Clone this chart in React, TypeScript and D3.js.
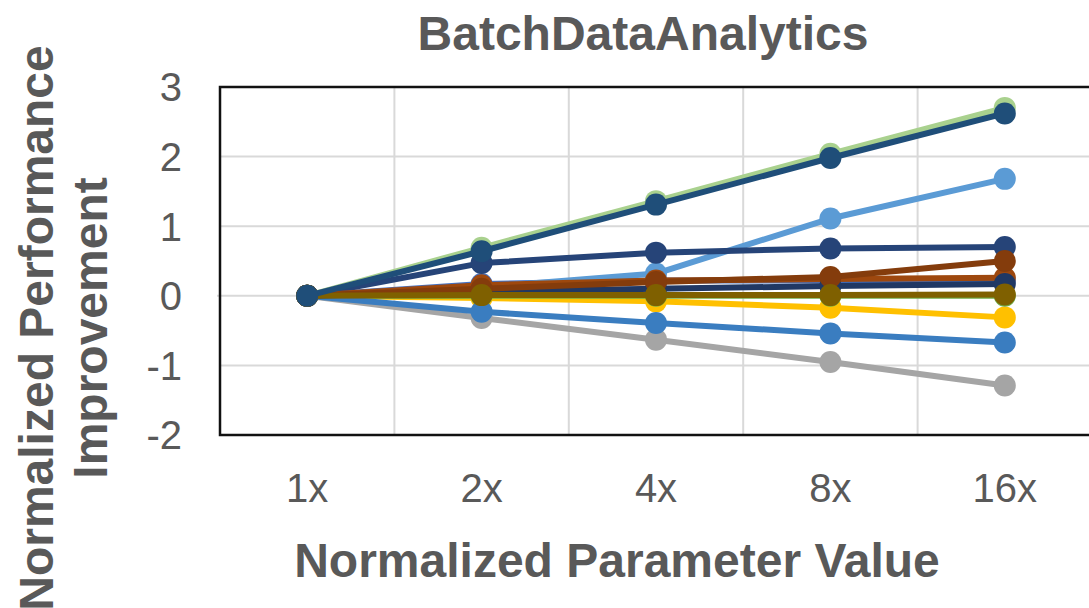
import React from 'react'
import * as d3 from 'd3'

// x categories
const params = ['1x', '2x', '4x', '8x', '16x']
const yTicks = [-2, -1, 0, 1, 2, 3]

// series, drawn in this order (later ones on top)
const seriesNames = ['S1', 'S2', 'S3', 'S4', 'S5', 'S6', 'S7', 'S8', 'S9', 'S10', 'S11', 'S12', 'S13']
const seriesColors = ['#4472C4', '#A9D18E', '#A5A5A5', '#FFC000', '#5B9BD5', '#70AD47', '#264478', '#9E480E', '#3A7DC0', '#203864', '#843C0C', '#7F6000', '#1F4E79']
const s1 = [0, 0.17, 0.22, 0.22, 0.22]
const s2 = [0, 0.69, 1.36, 2.04, 2.7]
const s3 = [0, -0.32, -0.63, -0.95, -1.29]
const s4 = [0, -0.03, -0.08, -0.17, -0.31]
const s5 = [0, 0.12, 0.32, 1.11, 1.68]
const s6 = [0, 0, 0, 0, 0]
const s7 = [0, 0.47, 0.62, 0.68, 0.7]
const s8 = [0, 0.15, 0.22, 0.24, 0.26]
const s9 = [0, -0.23, -0.39, -0.54, -0.67]
const s10 = [0, 0.06, 0.1, 0.14, 0.17]
const s11 = [0, 0.1, 0.2, 0.27, 0.5]
const s12 = [0, 0.01, 0.01, 0.01, 0.02]
const s13 = [0, 0.64, 1.31, 1.98, 2.62]
const seriesValues = [s1, s2, s3, s4, s5, s6, s7, s8, s9, s10, s11, s12, s13]

const W = 1089, H = 608
const m = { left: 220, right: 1092, top: 87, bottom: 435 }
const font = '"Liberation Sans", Arial, Helvetica, sans-serif'
const txt = '#595959'

export default function App(){
  const x = d3.scaleBand().domain(params).range([m.left, m.right]).padding(0)
  const cx = (p: string) => (x(p) ?? 0) + x.bandwidth() / 2
  const y = d3.scaleLinear().domain([-2, 3]).range([m.bottom, m.top])
  const line = d3.line<number>().x((_, i) => cx(params[i])).y(d => y(d))

  return (
    <svg width={W} height={H} style={{ position: 'fixed', left: 0, top: 0, background: '#fff' }} fontFamily={font}>
      <rect x={0} y={0} width={W} height={H} fill="#fff" />
      {/* gridlines */}
      {yTicks.filter(t => t > -2 && t < 3).map(t => (
        <line key={'h' + t} x1={t === 0 ? m.left - 3 : m.left} x2={m.right} y1={y(t)} y2={y(t)} stroke="#d9d9d9" strokeWidth={2} />
      ))}
      {params.slice(1).map(p => (
        <line key={'v' + p} x1={x(p)} x2={x(p)} y1={m.top} y2={m.bottom} stroke="#d9d9d9" strokeWidth={2} />
      ))}
      {/* frame */}
      <path d={`M${m.right},${m.top}H${m.left}V${m.bottom}H${m.right}`} fill="none" stroke="#111" strokeWidth={2.5} />
      {/* series */}
      {seriesValues.map((vals, si) => (
        <g key={seriesNames[si]}>
          <path d={line(vals) ?? ''} fill="none" stroke={seriesColors[si]} strokeWidth={6} strokeLinejoin="round" />
          {vals.map((v, i) => (
            <circle key={i} cx={cx(params[i])} cy={y(v)} r={11} fill={seriesColors[si]} />
          ))}
        </g>
      ))}
      {/* y ticks */}
      {yTicks.map(t => (
        <text key={'yt' + t} x={182} y={y(t)} dy="0.36em" textAnchor="end" fontSize={40} fill={txt}>{t}</text>
      ))}
      {/* x ticks */}
      {params.map(p => (
        <text key={'xt' + p} x={cx(p)} y={502} textAnchor="middle" fontSize={40} fill={txt}>{p}</text>
      ))}
      {/* titles */}
      <text x={643} y={50} textAnchor="middle" fontSize={48} fontWeight="bold" fill={txt}>BatchDataAnalytics</text>
      <text x={617} y={577} textAnchor="middle" fontSize={48} fontWeight="bold" fill={txt}>Normalized Parameter Value</text>
      <text transform="translate(53,328) rotate(-90)" textAnchor="middle" fontSize={48} fontWeight="bold" fill={txt}>Normalized Performance</text>
      <text transform="translate(107,328) rotate(-90)" textAnchor="middle" fontSize={48} fontWeight="bold" fill={txt}>Improvement</text>
    </svg>
  )
}
